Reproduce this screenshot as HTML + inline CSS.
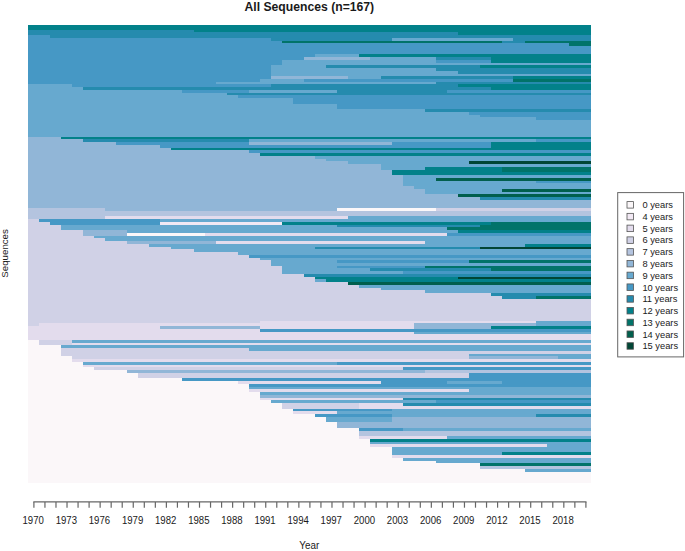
<!DOCTYPE html>
<html><head><meta charset="utf-8"><style>
html,body{margin:0;padding:0;background:#fff;}
body{width:685px;height:551px;overflow:hidden;}
svg{display:block;}
text{font-family:"Liberation Sans",sans-serif;fill:#1a1a1a;}
.t{font-size:9.6px;}
.l{font-size:9.3px;}
.title{font-size:12.2px;font-weight:bold;}
</style></head><body>
<svg width="685" height="551" viewBox="0 0 685 551" shape-rendering="crispEdges">
<text x="309.3" y="11.3" text-anchor="middle" class="title">All Sequences (n=167)</text>
<g><rect x="28.00" y="25.45" width="562.70" height="1.37" fill="#02818a"/>
<rect x="28.00" y="26.82" width="562.70" height="2.75" fill="#02818a"/>
<rect x="28.00" y="29.57" width="165.50" height="2.75" fill="#258bae"/>
<rect x="193.50" y="29.57" width="397.20" height="2.75" fill="#02818a"/>
<rect x="28.00" y="32.32" width="430.30" height="2.75" fill="#258bae"/>
<rect x="458.30" y="32.32" width="132.40" height="2.75" fill="#02818a"/>
<rect x="28.00" y="35.06" width="22.07" height="2.75" fill="#4698c5"/>
<rect x="50.07" y="35.06" width="540.63" height="2.75" fill="#258bae"/>
<rect x="28.00" y="37.81" width="242.73" height="2.75" fill="#4698c5"/>
<rect x="270.73" y="37.81" width="121.37" height="2.75" fill="#258bae"/>
<rect x="392.10" y="37.81" width="121.37" height="2.75" fill="#67a9cf"/>
<rect x="513.47" y="37.81" width="77.23" height="2.75" fill="#258bae"/>
<rect x="28.00" y="40.55" width="253.77" height="2.75" fill="#4698c5"/>
<rect x="281.77" y="40.55" width="220.67" height="2.75" fill="#017369"/>
<rect x="502.43" y="40.55" width="22.07" height="2.75" fill="#258bae"/>
<rect x="524.50" y="40.55" width="66.20" height="2.75" fill="#017369"/>
<rect x="28.00" y="43.30" width="540.63" height="2.75" fill="#4698c5"/>
<rect x="568.63" y="43.30" width="22.07" height="2.75" fill="#017369"/>
<rect x="28.00" y="46.05" width="562.70" height="2.75" fill="#4698c5"/>
<rect x="28.00" y="48.79" width="562.70" height="2.75" fill="#4698c5"/>
<rect x="28.00" y="51.54" width="562.70" height="2.75" fill="#4698c5"/>
<rect x="28.00" y="54.29" width="286.87" height="2.75" fill="#4698c5"/>
<rect x="314.87" y="54.29" width="44.13" height="2.75" fill="#67a9cf"/>
<rect x="359.00" y="54.29" width="231.70" height="2.75" fill="#02818a"/>
<rect x="28.00" y="57.03" width="275.83" height="2.75" fill="#4698c5"/>
<rect x="303.83" y="57.03" width="66.20" height="2.75" fill="#91b6d7"/>
<rect x="370.03" y="57.03" width="66.20" height="2.75" fill="#67a9cf"/>
<rect x="436.23" y="57.03" width="55.17" height="2.75" fill="#258bae"/>
<rect x="491.40" y="57.03" width="99.30" height="2.75" fill="#02818a"/>
<rect x="28.00" y="59.78" width="253.77" height="2.75" fill="#4698c5"/>
<rect x="281.77" y="59.78" width="154.47" height="2.75" fill="#67a9cf"/>
<rect x="436.23" y="59.78" width="55.17" height="2.75" fill="#4698c5"/>
<rect x="491.40" y="59.78" width="99.30" height="2.75" fill="#02818a"/>
<rect x="28.00" y="62.52" width="253.77" height="2.75" fill="#4698c5"/>
<rect x="281.77" y="62.52" width="308.93" height="2.75" fill="#67a9cf"/>
<rect x="28.00" y="65.27" width="242.73" height="2.75" fill="#4698c5"/>
<rect x="270.73" y="65.27" width="55.17" height="2.75" fill="#67a9cf"/>
<rect x="325.90" y="65.27" width="154.47" height="2.75" fill="#258bae"/>
<rect x="480.37" y="65.27" width="110.33" height="2.75" fill="#02818a"/>
<rect x="28.00" y="68.02" width="242.73" height="2.75" fill="#4698c5"/>
<rect x="270.73" y="68.02" width="165.50" height="2.75" fill="#67a9cf"/>
<rect x="436.23" y="68.02" width="154.47" height="2.75" fill="#258bae"/>
<rect x="28.00" y="70.76" width="242.73" height="2.75" fill="#4698c5"/>
<rect x="270.73" y="70.76" width="187.57" height="2.75" fill="#67a9cf"/>
<rect x="458.30" y="70.76" width="132.40" height="2.75" fill="#258bae"/>
<rect x="28.00" y="73.51" width="242.73" height="2.75" fill="#4698c5"/>
<rect x="270.73" y="73.51" width="319.97" height="2.75" fill="#67a9cf"/>
<rect x="28.00" y="76.26" width="242.73" height="2.75" fill="#4698c5"/>
<rect x="270.73" y="76.26" width="77.23" height="2.75" fill="#91b6d7"/>
<rect x="347.97" y="76.26" width="33.10" height="2.75" fill="#67a9cf"/>
<rect x="381.07" y="76.26" width="132.40" height="2.75" fill="#258bae"/>
<rect x="513.47" y="76.26" width="77.23" height="2.75" fill="#02818a"/>
<rect x="28.00" y="79.00" width="231.70" height="2.75" fill="#4698c5"/>
<rect x="259.70" y="79.00" width="44.13" height="2.75" fill="#67a9cf"/>
<rect x="303.83" y="79.00" width="209.63" height="2.75" fill="#4698c5"/>
<rect x="513.47" y="79.00" width="77.23" height="2.75" fill="#017369"/>
<rect x="28.00" y="81.75" width="187.57" height="2.75" fill="#4698c5"/>
<rect x="215.57" y="81.75" width="220.67" height="2.75" fill="#67a9cf"/>
<rect x="436.23" y="81.75" width="154.47" height="2.75" fill="#258bae"/>
<rect x="28.00" y="84.49" width="44.13" height="2.75" fill="#67a9cf"/>
<rect x="72.13" y="84.49" width="198.60" height="2.75" fill="#4698c5"/>
<rect x="270.73" y="84.49" width="187.57" height="2.75" fill="#258bae"/>
<rect x="458.30" y="84.49" width="132.40" height="2.75" fill="#02818a"/>
<rect x="28.00" y="87.24" width="55.17" height="2.75" fill="#67a9cf"/>
<rect x="83.17" y="87.24" width="408.23" height="2.75" fill="#258bae"/>
<rect x="491.40" y="87.24" width="99.30" height="2.75" fill="#02818a"/>
<rect x="28.00" y="89.99" width="154.47" height="2.75" fill="#67a9cf"/>
<rect x="182.47" y="89.99" width="66.20" height="2.75" fill="#4698c5"/>
<rect x="248.67" y="89.99" width="88.27" height="2.75" fill="#67a9cf"/>
<rect x="336.93" y="89.99" width="110.33" height="2.75" fill="#258bae"/>
<rect x="447.27" y="89.99" width="143.43" height="2.75" fill="#4698c5"/>
<rect x="28.00" y="92.73" width="198.60" height="2.75" fill="#67a9cf"/>
<rect x="226.60" y="92.73" width="364.10" height="2.75" fill="#258bae"/>
<rect x="28.00" y="95.48" width="209.63" height="2.75" fill="#67a9cf"/>
<rect x="237.63" y="95.48" width="353.07" height="2.75" fill="#4698c5"/>
<rect x="28.00" y="98.23" width="264.80" height="2.75" fill="#67a9cf"/>
<rect x="292.80" y="98.23" width="297.90" height="2.75" fill="#4698c5"/>
<rect x="28.00" y="100.97" width="264.80" height="2.75" fill="#67a9cf"/>
<rect x="292.80" y="100.97" width="297.90" height="2.75" fill="#4698c5"/>
<rect x="28.00" y="103.72" width="308.93" height="2.75" fill="#67a9cf"/>
<rect x="336.93" y="103.72" width="253.77" height="2.75" fill="#4698c5"/>
<rect x="28.00" y="106.46" width="308.93" height="2.75" fill="#67a9cf"/>
<rect x="336.93" y="106.46" width="253.77" height="2.75" fill="#4698c5"/>
<rect x="28.00" y="109.21" width="397.20" height="2.75" fill="#67a9cf"/>
<rect x="425.20" y="109.21" width="165.50" height="2.75" fill="#258bae"/>
<rect x="28.00" y="111.96" width="441.33" height="2.75" fill="#67a9cf"/>
<rect x="469.33" y="111.96" width="121.37" height="2.75" fill="#4698c5"/>
<rect x="28.00" y="114.70" width="452.37" height="2.75" fill="#67a9cf"/>
<rect x="480.37" y="114.70" width="110.33" height="2.75" fill="#4698c5"/>
<rect x="28.00" y="117.45" width="507.53" height="2.75" fill="#67a9cf"/>
<rect x="535.53" y="117.45" width="55.17" height="2.75" fill="#4698c5"/>
<rect x="28.00" y="120.20" width="562.70" height="2.75" fill="#67a9cf"/>
<rect x="28.00" y="122.94" width="562.70" height="2.75" fill="#67a9cf"/>
<rect x="28.00" y="125.69" width="562.70" height="2.75" fill="#67a9cf"/>
<rect x="28.00" y="128.43" width="562.70" height="2.75" fill="#67a9cf"/>
<rect x="28.00" y="131.18" width="562.70" height="2.75" fill="#67a9cf"/>
<rect x="28.00" y="133.93" width="562.70" height="2.75" fill="#67a9cf"/>
<rect x="28.00" y="136.67" width="33.10" height="2.75" fill="#91b6d7"/>
<rect x="61.10" y="136.67" width="529.60" height="2.75" fill="#02818a"/>
<rect x="28.00" y="139.42" width="55.17" height="2.75" fill="#91b6d7"/>
<rect x="83.17" y="139.42" width="165.50" height="2.75" fill="#258bae"/>
<rect x="248.67" y="139.42" width="286.87" height="2.75" fill="#67a9cf"/>
<rect x="535.53" y="139.42" width="55.17" height="2.75" fill="#4698c5"/>
<rect x="28.00" y="142.17" width="88.27" height="2.75" fill="#91b6d7"/>
<rect x="116.27" y="142.17" width="132.40" height="2.75" fill="#4698c5"/>
<rect x="248.67" y="142.17" width="143.43" height="2.75" fill="#91b6d7"/>
<rect x="392.10" y="142.17" width="99.30" height="2.75" fill="#4698c5"/>
<rect x="491.40" y="142.17" width="99.30" height="2.75" fill="#02818a"/>
<rect x="28.00" y="144.91" width="132.40" height="2.75" fill="#91b6d7"/>
<rect x="160.40" y="144.91" width="331.00" height="2.75" fill="#4698c5"/>
<rect x="491.40" y="144.91" width="99.30" height="2.75" fill="#02818a"/>
<rect x="28.00" y="147.66" width="143.43" height="2.75" fill="#91b6d7"/>
<rect x="171.43" y="147.66" width="419.27" height="2.75" fill="#02818a"/>
<rect x="28.00" y="150.40" width="220.67" height="2.75" fill="#91b6d7"/>
<rect x="248.67" y="150.40" width="342.03" height="2.75" fill="#4698c5"/>
<rect x="28.00" y="153.15" width="231.70" height="2.75" fill="#91b6d7"/>
<rect x="259.70" y="153.15" width="331.00" height="2.75" fill="#02818a"/>
<rect x="28.00" y="155.90" width="286.87" height="2.75" fill="#91b6d7"/>
<rect x="314.87" y="155.90" width="275.83" height="2.75" fill="#67a9cf"/>
<rect x="28.00" y="158.64" width="297.90" height="2.75" fill="#91b6d7"/>
<rect x="325.90" y="158.64" width="264.80" height="2.75" fill="#67a9cf"/>
<rect x="28.00" y="161.39" width="319.97" height="2.75" fill="#91b6d7"/>
<rect x="347.97" y="161.39" width="121.37" height="2.75" fill="#67a9cf"/>
<rect x="469.33" y="161.39" width="121.37" height="2.75" fill="#014636"/>
<rect x="28.00" y="164.14" width="353.07" height="2.75" fill="#91b6d7"/>
<rect x="381.07" y="164.14" width="209.63" height="2.75" fill="#67a9cf"/>
<rect x="28.00" y="166.88" width="353.07" height="2.75" fill="#91b6d7"/>
<rect x="381.07" y="166.88" width="44.13" height="2.75" fill="#67a9cf"/>
<rect x="425.20" y="166.88" width="77.23" height="2.75" fill="#02818a"/>
<rect x="502.43" y="166.88" width="88.27" height="2.75" fill="#017369"/>
<rect x="28.00" y="169.63" width="364.10" height="2.75" fill="#91b6d7"/>
<rect x="392.10" y="169.63" width="110.33" height="2.75" fill="#02818a"/>
<rect x="502.43" y="169.63" width="88.27" height="2.75" fill="#017369"/>
<rect x="28.00" y="172.37" width="364.10" height="2.75" fill="#91b6d7"/>
<rect x="392.10" y="172.37" width="198.60" height="2.75" fill="#02818a"/>
<rect x="28.00" y="175.12" width="375.13" height="2.75" fill="#91b6d7"/>
<rect x="403.13" y="175.12" width="187.57" height="2.75" fill="#67a9cf"/>
<rect x="28.00" y="177.87" width="375.13" height="2.75" fill="#91b6d7"/>
<rect x="403.13" y="177.87" width="33.10" height="2.75" fill="#67a9cf"/>
<rect x="436.23" y="177.87" width="154.47" height="2.75" fill="#015f4d"/>
<rect x="28.00" y="180.61" width="375.13" height="2.75" fill="#91b6d7"/>
<rect x="403.13" y="180.61" width="132.40" height="2.75" fill="#67a9cf"/>
<rect x="535.53" y="180.61" width="55.17" height="2.75" fill="#4698c5"/>
<rect x="28.00" y="183.36" width="375.13" height="2.75" fill="#91b6d7"/>
<rect x="403.13" y="183.36" width="187.57" height="2.75" fill="#67a9cf"/>
<rect x="28.00" y="186.11" width="386.17" height="2.75" fill="#91b6d7"/>
<rect x="414.17" y="186.11" width="176.53" height="2.75" fill="#67a9cf"/>
<rect x="28.00" y="188.85" width="397.20" height="2.75" fill="#91b6d7"/>
<rect x="425.20" y="188.85" width="77.23" height="2.75" fill="#67a9cf"/>
<rect x="502.43" y="188.85" width="88.27" height="2.75" fill="#015f4d"/>
<rect x="28.00" y="191.60" width="397.20" height="2.75" fill="#91b6d7"/>
<rect x="425.20" y="191.60" width="165.50" height="2.75" fill="#67a9cf"/>
<rect x="28.00" y="194.34" width="430.30" height="2.75" fill="#91b6d7"/>
<rect x="458.30" y="194.34" width="132.40" height="2.75" fill="#015f4d"/>
<rect x="28.00" y="197.09" width="452.37" height="2.75" fill="#91b6d7"/>
<rect x="480.37" y="197.09" width="110.33" height="2.75" fill="#258bae"/>
<rect x="28.00" y="199.84" width="562.70" height="2.75" fill="#91b6d7"/>
<rect x="28.00" y="202.58" width="562.70" height="2.75" fill="#91b6d7"/>
<rect x="28.00" y="205.33" width="562.70" height="2.75" fill="#91b6d7"/>
<rect x="28.00" y="208.08" width="77.23" height="2.75" fill="#b4c4df"/>
<rect x="105.23" y="208.08" width="231.70" height="2.75" fill="#91b6d7"/>
<rect x="336.93" y="208.08" width="99.30" height="2.75" fill="#fbf7f9"/>
<rect x="436.23" y="208.08" width="154.47" height="2.75" fill="#d0d1e6"/>
<rect x="28.00" y="210.82" width="562.70" height="2.75" fill="#b4c4df"/>
<rect x="28.00" y="213.57" width="562.70" height="2.75" fill="#b4c4df"/>
<rect x="28.00" y="216.31" width="77.23" height="2.75" fill="#b4c4df"/>
<rect x="105.23" y="216.31" width="242.73" height="2.75" fill="#e3dced"/>
<rect x="347.97" y="216.31" width="242.73" height="2.75" fill="#67a9cf"/>
<rect x="28.00" y="219.06" width="11.03" height="2.75" fill="#d0d1e6"/>
<rect x="39.03" y="219.06" width="121.37" height="2.75" fill="#4698c5"/>
<rect x="160.40" y="219.06" width="430.30" height="2.75" fill="#67a9cf"/>
<rect x="28.00" y="221.81" width="22.07" height="2.75" fill="#d0d1e6"/>
<rect x="50.07" y="221.81" width="110.33" height="2.75" fill="#4698c5"/>
<rect x="160.40" y="221.81" width="121.37" height="2.75" fill="#f2e9f4"/>
<rect x="281.77" y="221.81" width="209.63" height="2.75" fill="#02818a"/>
<rect x="491.40" y="221.81" width="99.30" height="2.75" fill="#017369"/>
<rect x="28.00" y="224.55" width="33.10" height="2.75" fill="#d0d1e6"/>
<rect x="61.10" y="224.55" width="275.83" height="2.75" fill="#67a9cf"/>
<rect x="336.93" y="224.55" width="143.43" height="2.75" fill="#258bae"/>
<rect x="480.37" y="224.55" width="110.33" height="2.75" fill="#017369"/>
<rect x="28.00" y="227.30" width="33.10" height="2.75" fill="#d0d1e6"/>
<rect x="61.10" y="227.30" width="386.17" height="2.75" fill="#67a9cf"/>
<rect x="447.27" y="227.30" width="143.43" height="2.75" fill="#017369"/>
<rect x="28.00" y="230.05" width="55.17" height="2.75" fill="#d0d1e6"/>
<rect x="83.17" y="230.05" width="44.13" height="2.75" fill="#91b6d7"/>
<rect x="127.30" y="230.05" width="331.00" height="2.75" fill="#67a9cf"/>
<rect x="458.30" y="230.05" width="132.40" height="2.75" fill="#02818a"/>
<rect x="28.00" y="232.79" width="55.17" height="2.75" fill="#d0d1e6"/>
<rect x="83.17" y="232.79" width="44.13" height="2.75" fill="#91b6d7"/>
<rect x="127.30" y="232.79" width="77.23" height="2.75" fill="#fbf7f9"/>
<rect x="204.53" y="232.79" width="242.73" height="2.75" fill="#e3dced"/>
<rect x="447.27" y="232.79" width="143.43" height="2.75" fill="#4698c5"/>
<rect x="28.00" y="235.54" width="66.20" height="2.75" fill="#d0d1e6"/>
<rect x="94.20" y="235.54" width="496.50" height="2.75" fill="#67a9cf"/>
<rect x="28.00" y="238.28" width="77.23" height="2.75" fill="#d0d1e6"/>
<rect x="105.23" y="238.28" width="485.47" height="2.75" fill="#67a9cf"/>
<rect x="28.00" y="241.03" width="99.30" height="2.75" fill="#d0d1e6"/>
<rect x="127.30" y="241.03" width="88.27" height="2.75" fill="#91b6d7"/>
<rect x="215.57" y="241.03" width="209.63" height="2.75" fill="#e3dced"/>
<rect x="425.20" y="241.03" width="165.50" height="2.75" fill="#67a9cf"/>
<rect x="28.00" y="243.78" width="121.37" height="2.75" fill="#d0d1e6"/>
<rect x="149.37" y="243.78" width="375.13" height="2.75" fill="#67a9cf"/>
<rect x="524.50" y="243.78" width="66.20" height="2.75" fill="#02818a"/>
<rect x="28.00" y="246.52" width="143.43" height="2.75" fill="#d0d1e6"/>
<rect x="171.43" y="246.52" width="143.43" height="2.75" fill="#67a9cf"/>
<rect x="314.87" y="246.52" width="165.50" height="2.75" fill="#258bae"/>
<rect x="480.37" y="246.52" width="110.33" height="2.75" fill="#014636"/>
<rect x="28.00" y="249.27" width="165.50" height="2.75" fill="#d0d1e6"/>
<rect x="193.50" y="249.27" width="397.20" height="2.75" fill="#67a9cf"/>
<rect x="28.00" y="252.02" width="209.63" height="2.75" fill="#d0d1e6"/>
<rect x="237.63" y="252.02" width="353.07" height="2.75" fill="#67a9cf"/>
<rect x="28.00" y="254.76" width="220.67" height="2.75" fill="#d0d1e6"/>
<rect x="248.67" y="254.76" width="342.03" height="2.75" fill="#4698c5"/>
<rect x="28.00" y="257.51" width="231.70" height="2.75" fill="#d0d1e6"/>
<rect x="259.70" y="257.51" width="331.00" height="2.75" fill="#67a9cf"/>
<rect x="28.00" y="260.25" width="242.73" height="2.75" fill="#d0d1e6"/>
<rect x="270.73" y="260.25" width="66.20" height="2.75" fill="#67a9cf"/>
<rect x="336.93" y="260.25" width="132.40" height="2.75" fill="#4698c5"/>
<rect x="469.33" y="260.25" width="121.37" height="2.75" fill="#017369"/>
<rect x="28.00" y="263.00" width="242.73" height="2.75" fill="#d0d1e6"/>
<rect x="270.73" y="263.00" width="319.97" height="2.75" fill="#67a9cf"/>
<rect x="28.00" y="265.75" width="253.77" height="2.75" fill="#d0d1e6"/>
<rect x="281.77" y="265.75" width="55.17" height="2.75" fill="#67a9cf"/>
<rect x="336.93" y="265.75" width="88.27" height="2.75" fill="#4698c5"/>
<rect x="425.20" y="265.75" width="165.50" height="2.75" fill="#017369"/>
<rect x="28.00" y="268.49" width="253.77" height="2.75" fill="#d0d1e6"/>
<rect x="281.77" y="268.49" width="88.27" height="2.75" fill="#67a9cf"/>
<rect x="370.03" y="268.49" width="121.37" height="2.75" fill="#258bae"/>
<rect x="491.40" y="268.49" width="99.30" height="2.75" fill="#017369"/>
<rect x="28.00" y="271.24" width="253.77" height="2.75" fill="#d0d1e6"/>
<rect x="281.77" y="271.24" width="121.37" height="2.75" fill="#67a9cf"/>
<rect x="403.13" y="271.24" width="187.57" height="2.75" fill="#4698c5"/>
<rect x="28.00" y="273.99" width="275.83" height="2.75" fill="#d0d1e6"/>
<rect x="303.83" y="273.99" width="286.87" height="2.75" fill="#258bae"/>
<rect x="28.00" y="276.73" width="286.87" height="2.75" fill="#d0d1e6"/>
<rect x="314.87" y="276.73" width="143.43" height="2.75" fill="#02818a"/>
<rect x="458.30" y="276.73" width="132.40" height="2.75" fill="#014636"/>
<rect x="28.00" y="279.48" width="286.87" height="2.75" fill="#d0d1e6"/>
<rect x="314.87" y="279.48" width="11.03" height="2.75" fill="#67a9cf"/>
<rect x="325.90" y="279.48" width="264.80" height="2.75" fill="#02818a"/>
<rect x="28.00" y="282.22" width="319.97" height="2.75" fill="#d0d1e6"/>
<rect x="347.97" y="282.22" width="242.73" height="2.75" fill="#015f4d"/>
<rect x="28.00" y="284.97" width="331.00" height="2.75" fill="#d0d1e6"/>
<rect x="359.00" y="284.97" width="231.70" height="2.75" fill="#67a9cf"/>
<rect x="28.00" y="287.72" width="353.07" height="2.75" fill="#d0d1e6"/>
<rect x="381.07" y="287.72" width="209.63" height="2.75" fill="#67a9cf"/>
<rect x="28.00" y="290.46" width="397.20" height="2.75" fill="#d0d1e6"/>
<rect x="425.20" y="290.46" width="165.50" height="2.75" fill="#67a9cf"/>
<rect x="28.00" y="293.21" width="463.40" height="2.75" fill="#d0d1e6"/>
<rect x="491.40" y="293.21" width="99.30" height="2.75" fill="#258bae"/>
<rect x="28.00" y="295.96" width="474.43" height="2.75" fill="#d0d1e6"/>
<rect x="502.43" y="295.96" width="33.10" height="2.75" fill="#258bae"/>
<rect x="535.53" y="295.96" width="55.17" height="2.75" fill="#017369"/>
<rect x="28.00" y="298.70" width="562.70" height="2.75" fill="#d0d1e6"/>
<rect x="28.00" y="301.45" width="562.70" height="2.75" fill="#d0d1e6"/>
<rect x="28.00" y="304.19" width="562.70" height="2.75" fill="#d0d1e6"/>
<rect x="28.00" y="306.94" width="562.70" height="2.75" fill="#d0d1e6"/>
<rect x="28.00" y="309.69" width="562.70" height="2.75" fill="#d0d1e6"/>
<rect x="28.00" y="312.43" width="562.70" height="2.75" fill="#d0d1e6"/>
<rect x="28.00" y="315.18" width="562.70" height="2.75" fill="#d0d1e6"/>
<rect x="28.00" y="317.93" width="562.70" height="2.75" fill="#d0d1e6"/>
<rect x="28.00" y="320.67" width="231.70" height="2.75" fill="#d0d1e6"/>
<rect x="259.70" y="320.67" width="275.83" height="2.75" fill="#e3dced"/>
<rect x="535.53" y="320.67" width="55.17" height="2.75" fill="#67a9cf"/>
<rect x="28.00" y="323.42" width="11.03" height="2.75" fill="#d0d1e6"/>
<rect x="39.03" y="323.42" width="375.13" height="2.75" fill="#e3dced"/>
<rect x="414.17" y="323.42" width="121.37" height="2.75" fill="#91b6d7"/>
<rect x="535.53" y="323.42" width="55.17" height="2.75" fill="#67a9cf"/>
<rect x="28.00" y="326.16" width="132.40" height="2.75" fill="#e3dced"/>
<rect x="160.40" y="326.16" width="99.30" height="2.75" fill="#91b6d7"/>
<rect x="259.70" y="326.16" width="154.47" height="2.75" fill="#e3dced"/>
<rect x="414.17" y="326.16" width="77.23" height="2.75" fill="#91b6d7"/>
<rect x="491.40" y="326.16" width="99.30" height="2.75" fill="#02818a"/>
<rect x="28.00" y="328.91" width="231.70" height="2.75" fill="#e3dced"/>
<rect x="259.70" y="328.91" width="331.00" height="2.75" fill="#4698c5"/>
<rect x="28.00" y="331.66" width="386.17" height="2.75" fill="#e3dced"/>
<rect x="414.17" y="331.66" width="176.53" height="2.75" fill="#67a9cf"/>
<rect x="28.00" y="334.40" width="562.70" height="2.75" fill="#e3dced"/>
<rect x="28.00" y="337.15" width="562.70" height="2.75" fill="#e3dced"/>
<rect x="28.00" y="339.90" width="11.03" height="2.75" fill="#fbf7f9"/>
<rect x="39.03" y="339.90" width="33.10" height="2.75" fill="#d0d1e6"/>
<rect x="72.13" y="339.90" width="518.57" height="2.75" fill="#67a9cf"/>
<rect x="28.00" y="342.64" width="11.03" height="2.75" fill="#fbf7f9"/>
<rect x="39.03" y="342.64" width="33.10" height="2.75" fill="#d0d1e6"/>
<rect x="72.13" y="342.64" width="518.57" height="2.75" fill="#e3dced"/>
<rect x="28.00" y="345.39" width="33.10" height="2.75" fill="#fbf7f9"/>
<rect x="61.10" y="345.39" width="529.60" height="2.75" fill="#67a9cf"/>
<rect x="28.00" y="348.13" width="33.10" height="2.75" fill="#fbf7f9"/>
<rect x="61.10" y="348.13" width="187.57" height="2.75" fill="#d0d1e6"/>
<rect x="248.67" y="348.13" width="342.03" height="2.75" fill="#67a9cf"/>
<rect x="28.00" y="350.88" width="33.10" height="2.75" fill="#fbf7f9"/>
<rect x="61.10" y="350.88" width="529.60" height="2.75" fill="#d0d1e6"/>
<rect x="28.00" y="353.63" width="33.10" height="2.75" fill="#fbf7f9"/>
<rect x="61.10" y="353.63" width="408.23" height="2.75" fill="#d0d1e6"/>
<rect x="469.33" y="353.63" width="121.37" height="2.75" fill="#67a9cf"/>
<rect x="28.00" y="356.37" width="44.13" height="2.75" fill="#fbf7f9"/>
<rect x="72.13" y="356.37" width="397.20" height="2.75" fill="#d0d1e6"/>
<rect x="469.33" y="356.37" width="88.27" height="2.75" fill="#91b6d7"/>
<rect x="557.60" y="356.37" width="33.10" height="2.75" fill="#67a9cf"/>
<rect x="28.00" y="359.12" width="44.13" height="2.75" fill="#fbf7f9"/>
<rect x="72.13" y="359.12" width="518.57" height="2.75" fill="#e3dced"/>
<rect x="28.00" y="361.87" width="55.17" height="2.75" fill="#fbf7f9"/>
<rect x="83.17" y="361.87" width="253.77" height="2.75" fill="#67a9cf"/>
<rect x="336.93" y="361.87" width="253.77" height="2.75" fill="#4698c5"/>
<rect x="28.00" y="364.61" width="55.17" height="2.75" fill="#fbf7f9"/>
<rect x="83.17" y="364.61" width="507.53" height="2.75" fill="#e3dced"/>
<rect x="28.00" y="367.36" width="66.20" height="2.75" fill="#fbf7f9"/>
<rect x="94.20" y="367.36" width="308.93" height="2.75" fill="#d0d1e6"/>
<rect x="403.13" y="367.36" width="187.57" height="2.75" fill="#4698c5"/>
<rect x="28.00" y="370.10" width="99.30" height="2.75" fill="#fbf7f9"/>
<rect x="127.30" y="370.10" width="297.90" height="2.75" fill="#91b6d7"/>
<rect x="425.20" y="370.10" width="165.50" height="2.75" fill="#b4c4df"/>
<rect x="28.00" y="372.85" width="110.33" height="2.75" fill="#fbf7f9"/>
<rect x="138.33" y="372.85" width="331.00" height="2.75" fill="#d0d1e6"/>
<rect x="469.33" y="372.85" width="121.37" height="2.75" fill="#4698c5"/>
<rect x="28.00" y="375.60" width="110.33" height="2.75" fill="#fbf7f9"/>
<rect x="138.33" y="375.60" width="331.00" height="2.75" fill="#d0d1e6"/>
<rect x="469.33" y="375.60" width="121.37" height="2.75" fill="#4698c5"/>
<rect x="28.00" y="378.34" width="154.47" height="2.75" fill="#fbf7f9"/>
<rect x="182.47" y="378.34" width="408.23" height="2.75" fill="#4698c5"/>
<rect x="28.00" y="381.09" width="209.63" height="2.75" fill="#fbf7f9"/>
<rect x="237.63" y="381.09" width="143.43" height="2.75" fill="#e3dced"/>
<rect x="381.07" y="381.09" width="66.20" height="2.75" fill="#4698c5"/>
<rect x="447.27" y="381.09" width="55.17" height="2.75" fill="#67a9cf"/>
<rect x="502.43" y="381.09" width="88.27" height="2.75" fill="#4698c5"/>
<rect x="28.00" y="383.84" width="220.67" height="2.75" fill="#fbf7f9"/>
<rect x="248.67" y="383.84" width="342.03" height="2.75" fill="#4698c5"/>
<rect x="28.00" y="386.58" width="220.67" height="2.75" fill="#fbf7f9"/>
<rect x="248.67" y="386.58" width="342.03" height="2.75" fill="#67a9cf"/>
<rect x="28.00" y="389.33" width="220.67" height="2.75" fill="#fbf7f9"/>
<rect x="248.67" y="389.33" width="220.67" height="2.75" fill="#e3dced"/>
<rect x="469.33" y="389.33" width="121.37" height="2.75" fill="#67a9cf"/>
<rect x="28.00" y="392.07" width="231.70" height="2.75" fill="#fbf7f9"/>
<rect x="259.70" y="392.07" width="331.00" height="2.75" fill="#67a9cf"/>
<rect x="28.00" y="394.82" width="231.70" height="2.75" fill="#fbf7f9"/>
<rect x="259.70" y="394.82" width="331.00" height="2.75" fill="#91b6d7"/>
<rect x="28.00" y="397.57" width="231.70" height="2.75" fill="#fbf7f9"/>
<rect x="259.70" y="397.57" width="143.43" height="2.75" fill="#e3dced"/>
<rect x="403.13" y="397.57" width="187.57" height="2.75" fill="#258bae"/>
<rect x="28.00" y="400.31" width="242.73" height="2.75" fill="#fbf7f9"/>
<rect x="270.73" y="400.31" width="165.50" height="2.75" fill="#67a9cf"/>
<rect x="436.23" y="400.31" width="154.47" height="2.75" fill="#4698c5"/>
<rect x="28.00" y="403.06" width="253.77" height="2.75" fill="#fbf7f9"/>
<rect x="281.77" y="403.06" width="77.23" height="2.75" fill="#d0d1e6"/>
<rect x="359.00" y="403.06" width="44.13" height="2.75" fill="#e3dced"/>
<rect x="403.13" y="403.06" width="187.57" height="2.75" fill="#258bae"/>
<rect x="28.00" y="405.81" width="253.77" height="2.75" fill="#fbf7f9"/>
<rect x="281.77" y="405.81" width="77.23" height="2.75" fill="#d0d1e6"/>
<rect x="359.00" y="405.81" width="231.70" height="2.75" fill="#e3dced"/>
<rect x="28.00" y="408.55" width="264.80" height="2.75" fill="#fbf7f9"/>
<rect x="292.80" y="408.55" width="99.30" height="2.75" fill="#4698c5"/>
<rect x="392.10" y="408.55" width="198.60" height="2.75" fill="#67a9cf"/>
<rect x="28.00" y="411.30" width="264.80" height="2.75" fill="#fbf7f9"/>
<rect x="292.80" y="411.30" width="44.13" height="2.75" fill="#e3dced"/>
<rect x="336.93" y="411.30" width="253.77" height="2.75" fill="#67a9cf"/>
<rect x="28.00" y="414.04" width="286.87" height="2.75" fill="#fbf7f9"/>
<rect x="314.87" y="414.04" width="77.23" height="2.75" fill="#4698c5"/>
<rect x="392.10" y="414.04" width="143.43" height="2.75" fill="#67a9cf"/>
<rect x="535.53" y="414.04" width="55.17" height="2.75" fill="#258bae"/>
<rect x="28.00" y="416.79" width="297.90" height="2.75" fill="#fbf7f9"/>
<rect x="325.90" y="416.79" width="66.20" height="2.75" fill="#67a9cf"/>
<rect x="392.10" y="416.79" width="198.60" height="2.75" fill="#91b6d7"/>
<rect x="28.00" y="419.54" width="297.90" height="2.75" fill="#fbf7f9"/>
<rect x="325.90" y="419.54" width="66.20" height="2.75" fill="#67a9cf"/>
<rect x="392.10" y="419.54" width="198.60" height="2.75" fill="#91b6d7"/>
<rect x="28.00" y="422.28" width="308.93" height="2.75" fill="#fbf7f9"/>
<rect x="336.93" y="422.28" width="253.77" height="2.75" fill="#91b6d7"/>
<rect x="28.00" y="425.03" width="308.93" height="2.75" fill="#fbf7f9"/>
<rect x="336.93" y="425.03" width="253.77" height="2.75" fill="#91b6d7"/>
<rect x="28.00" y="427.78" width="331.00" height="2.75" fill="#fbf7f9"/>
<rect x="359.00" y="427.78" width="44.13" height="2.75" fill="#4698c5"/>
<rect x="403.13" y="427.78" width="187.57" height="2.75" fill="#67a9cf"/>
<rect x="28.00" y="430.52" width="331.00" height="2.75" fill="#fbf7f9"/>
<rect x="359.00" y="430.52" width="231.70" height="2.75" fill="#b4c4df"/>
<rect x="28.00" y="433.27" width="331.00" height="2.75" fill="#fbf7f9"/>
<rect x="359.00" y="433.27" width="231.70" height="2.75" fill="#b4c4df"/>
<rect x="28.00" y="436.01" width="331.00" height="2.75" fill="#fbf7f9"/>
<rect x="359.00" y="436.01" width="88.27" height="2.75" fill="#e3dced"/>
<rect x="447.27" y="436.01" width="143.43" height="2.75" fill="#67a9cf"/>
<rect x="28.00" y="438.76" width="342.03" height="2.75" fill="#fbf7f9"/>
<rect x="370.03" y="438.76" width="220.67" height="2.75" fill="#02818a"/>
<rect x="28.00" y="441.51" width="342.03" height="2.75" fill="#fbf7f9"/>
<rect x="370.03" y="441.51" width="220.67" height="2.75" fill="#67a9cf"/>
<rect x="28.00" y="444.25" width="342.03" height="2.75" fill="#fbf7f9"/>
<rect x="370.03" y="444.25" width="176.53" height="2.75" fill="#e3dced"/>
<rect x="546.57" y="444.25" width="44.13" height="2.75" fill="#67a9cf"/>
<rect x="28.00" y="447.00" width="364.10" height="2.75" fill="#fbf7f9"/>
<rect x="392.10" y="447.00" width="198.60" height="2.75" fill="#67a9cf"/>
<rect x="28.00" y="449.75" width="364.10" height="2.75" fill="#fbf7f9"/>
<rect x="392.10" y="449.75" width="198.60" height="2.75" fill="#67a9cf"/>
<rect x="28.00" y="452.49" width="364.10" height="2.75" fill="#fbf7f9"/>
<rect x="392.10" y="452.49" width="110.33" height="2.75" fill="#67a9cf"/>
<rect x="502.43" y="452.49" width="88.27" height="2.75" fill="#02818a"/>
<rect x="28.00" y="455.24" width="364.10" height="2.75" fill="#fbf7f9"/>
<rect x="392.10" y="455.24" width="198.60" height="2.75" fill="#e3dced"/>
<rect x="28.00" y="457.98" width="375.13" height="2.75" fill="#fbf7f9"/>
<rect x="403.13" y="457.98" width="187.57" height="2.75" fill="#67a9cf"/>
<rect x="28.00" y="460.73" width="408.23" height="2.75" fill="#fbf7f9"/>
<rect x="436.23" y="460.73" width="154.47" height="2.75" fill="#67a9cf"/>
<rect x="28.00" y="463.48" width="452.37" height="2.75" fill="#fbf7f9"/>
<rect x="480.37" y="463.48" width="110.33" height="2.75" fill="#017369"/>
<rect x="28.00" y="466.22" width="452.37" height="2.75" fill="#fbf7f9"/>
<rect x="480.37" y="466.22" width="110.33" height="2.75" fill="#b4c4df"/>
<rect x="28.00" y="468.97" width="496.50" height="2.75" fill="#fbf7f9"/>
<rect x="524.50" y="468.97" width="66.20" height="2.75" fill="#67a9cf"/>
<rect x="28.00" y="471.72" width="562.70" height="2.75" fill="#fbf7f9"/>
<rect x="28.00" y="474.46" width="562.70" height="2.75" fill="#fbf7f9"/>
<rect x="28.00" y="477.21" width="562.70" height="2.75" fill="#fbf7f9"/>
<rect x="28.00" y="479.95" width="562.70" height="2.75" fill="#fbf7f9"/></g>
<g shape-rendering="auto"><line x1="33.30" y1="501.9" x2="586.50" y2="501.9" stroke="#666" stroke-width="1.2"/>
<line x1="33.90" y1="501.9" x2="33.90" y2="507.7" stroke="#666" stroke-width="1.2"/>
<text transform="translate(33.20,524.1) scale(1,1.06)" text-anchor="middle" class="t">1970</text>
<line x1="44.94" y1="501.9" x2="44.94" y2="507.7" stroke="#666" stroke-width="1.2"/>
<line x1="55.98" y1="501.9" x2="55.98" y2="507.7" stroke="#666" stroke-width="1.2"/>
<line x1="67.02" y1="501.9" x2="67.02" y2="507.7" stroke="#666" stroke-width="1.2"/>
<text transform="translate(66.32,524.1) scale(1,1.06)" text-anchor="middle" class="t">1973</text>
<line x1="78.06" y1="501.9" x2="78.06" y2="507.7" stroke="#666" stroke-width="1.2"/>
<line x1="89.10" y1="501.9" x2="89.10" y2="507.7" stroke="#666" stroke-width="1.2"/>
<line x1="100.14" y1="501.9" x2="100.14" y2="507.7" stroke="#666" stroke-width="1.2"/>
<text transform="translate(99.44,524.1) scale(1,1.06)" text-anchor="middle" class="t">1976</text>
<line x1="111.18" y1="501.9" x2="111.18" y2="507.7" stroke="#666" stroke-width="1.2"/>
<line x1="122.22" y1="501.9" x2="122.22" y2="507.7" stroke="#666" stroke-width="1.2"/>
<line x1="133.26" y1="501.9" x2="133.26" y2="507.7" stroke="#666" stroke-width="1.2"/>
<text transform="translate(132.56,524.1) scale(1,1.06)" text-anchor="middle" class="t">1979</text>
<line x1="144.30" y1="501.9" x2="144.30" y2="507.7" stroke="#666" stroke-width="1.2"/>
<line x1="155.34" y1="501.9" x2="155.34" y2="507.7" stroke="#666" stroke-width="1.2"/>
<line x1="166.38" y1="501.9" x2="166.38" y2="507.7" stroke="#666" stroke-width="1.2"/>
<text transform="translate(165.68,524.1) scale(1,1.06)" text-anchor="middle" class="t">1982</text>
<line x1="177.42" y1="501.9" x2="177.42" y2="507.7" stroke="#666" stroke-width="1.2"/>
<line x1="188.46" y1="501.9" x2="188.46" y2="507.7" stroke="#666" stroke-width="1.2"/>
<line x1="199.50" y1="501.9" x2="199.50" y2="507.7" stroke="#666" stroke-width="1.2"/>
<text transform="translate(198.80,524.1) scale(1,1.06)" text-anchor="middle" class="t">1985</text>
<line x1="210.54" y1="501.9" x2="210.54" y2="507.7" stroke="#666" stroke-width="1.2"/>
<line x1="221.58" y1="501.9" x2="221.58" y2="507.7" stroke="#666" stroke-width="1.2"/>
<line x1="232.62" y1="501.9" x2="232.62" y2="507.7" stroke="#666" stroke-width="1.2"/>
<text transform="translate(231.92,524.1) scale(1,1.06)" text-anchor="middle" class="t">1988</text>
<line x1="243.66" y1="501.9" x2="243.66" y2="507.7" stroke="#666" stroke-width="1.2"/>
<line x1="254.70" y1="501.9" x2="254.70" y2="507.7" stroke="#666" stroke-width="1.2"/>
<line x1="265.74" y1="501.9" x2="265.74" y2="507.7" stroke="#666" stroke-width="1.2"/>
<text transform="translate(265.04,524.1) scale(1,1.06)" text-anchor="middle" class="t">1991</text>
<line x1="276.78" y1="501.9" x2="276.78" y2="507.7" stroke="#666" stroke-width="1.2"/>
<line x1="287.82" y1="501.9" x2="287.82" y2="507.7" stroke="#666" stroke-width="1.2"/>
<line x1="298.86" y1="501.9" x2="298.86" y2="507.7" stroke="#666" stroke-width="1.2"/>
<text transform="translate(298.16,524.1) scale(1,1.06)" text-anchor="middle" class="t">1994</text>
<line x1="309.90" y1="501.9" x2="309.90" y2="507.7" stroke="#666" stroke-width="1.2"/>
<line x1="320.94" y1="501.9" x2="320.94" y2="507.7" stroke="#666" stroke-width="1.2"/>
<line x1="331.98" y1="501.9" x2="331.98" y2="507.7" stroke="#666" stroke-width="1.2"/>
<text transform="translate(331.28,524.1) scale(1,1.06)" text-anchor="middle" class="t">1997</text>
<line x1="343.02" y1="501.9" x2="343.02" y2="507.7" stroke="#666" stroke-width="1.2"/>
<line x1="354.06" y1="501.9" x2="354.06" y2="507.7" stroke="#666" stroke-width="1.2"/>
<line x1="365.10" y1="501.9" x2="365.10" y2="507.7" stroke="#666" stroke-width="1.2"/>
<text transform="translate(364.40,524.1) scale(1,1.06)" text-anchor="middle" class="t">2000</text>
<line x1="376.14" y1="501.9" x2="376.14" y2="507.7" stroke="#666" stroke-width="1.2"/>
<line x1="387.18" y1="501.9" x2="387.18" y2="507.7" stroke="#666" stroke-width="1.2"/>
<line x1="398.22" y1="501.9" x2="398.22" y2="507.7" stroke="#666" stroke-width="1.2"/>
<text transform="translate(397.52,524.1) scale(1,1.06)" text-anchor="middle" class="t">2003</text>
<line x1="409.26" y1="501.9" x2="409.26" y2="507.7" stroke="#666" stroke-width="1.2"/>
<line x1="420.30" y1="501.9" x2="420.30" y2="507.7" stroke="#666" stroke-width="1.2"/>
<line x1="431.34" y1="501.9" x2="431.34" y2="507.7" stroke="#666" stroke-width="1.2"/>
<text transform="translate(430.64,524.1) scale(1,1.06)" text-anchor="middle" class="t">2006</text>
<line x1="442.38" y1="501.9" x2="442.38" y2="507.7" stroke="#666" stroke-width="1.2"/>
<line x1="453.42" y1="501.9" x2="453.42" y2="507.7" stroke="#666" stroke-width="1.2"/>
<line x1="464.46" y1="501.9" x2="464.46" y2="507.7" stroke="#666" stroke-width="1.2"/>
<text transform="translate(463.76,524.1) scale(1,1.06)" text-anchor="middle" class="t">2009</text>
<line x1="475.50" y1="501.9" x2="475.50" y2="507.7" stroke="#666" stroke-width="1.2"/>
<line x1="486.54" y1="501.9" x2="486.54" y2="507.7" stroke="#666" stroke-width="1.2"/>
<line x1="497.58" y1="501.9" x2="497.58" y2="507.7" stroke="#666" stroke-width="1.2"/>
<text transform="translate(496.88,524.1) scale(1,1.06)" text-anchor="middle" class="t">2012</text>
<line x1="508.62" y1="501.9" x2="508.62" y2="507.7" stroke="#666" stroke-width="1.2"/>
<line x1="519.66" y1="501.9" x2="519.66" y2="507.7" stroke="#666" stroke-width="1.2"/>
<line x1="530.70" y1="501.9" x2="530.70" y2="507.7" stroke="#666" stroke-width="1.2"/>
<text transform="translate(530.00,524.1) scale(1,1.06)" text-anchor="middle" class="t">2015</text>
<line x1="541.74" y1="501.9" x2="541.74" y2="507.7" stroke="#666" stroke-width="1.2"/>
<line x1="552.78" y1="501.9" x2="552.78" y2="507.7" stroke="#666" stroke-width="1.2"/>
<line x1="563.82" y1="501.9" x2="563.82" y2="507.7" stroke="#666" stroke-width="1.2"/>
<text transform="translate(563.12,524.1) scale(1,1.06)" text-anchor="middle" class="t">2018</text>
<line x1="574.86" y1="501.9" x2="574.86" y2="507.7" stroke="#666" stroke-width="1.2"/>
<line x1="585.90" y1="501.9" x2="585.90" y2="507.7" stroke="#666" stroke-width="1.2"/></g>
<text transform="translate(309.3,549.2) scale(1,1.03)" text-anchor="middle" class="t" style="font-size:9.9px">Year</text>
<text transform="translate(7.8,253.4) rotate(-90)" text-anchor="middle" class="t" style="font-size:9.7px">Sequences</text>
<g shape-rendering="auto"><rect x="617.7" y="192.6" width="65.9" height="164.3" fill="#fff" stroke="#666" stroke-width="1"/>
<rect x="627.0" y="201.60" width="6.5" height="6.5" fill="#fbf7f9" stroke="#555" stroke-width="0.8"/>
<text x="642.4" y="208.20" class="l">0 years</text>
<rect x="627.0" y="213.36" width="6.5" height="6.5" fill="#f2e9f4" stroke="#555" stroke-width="0.8"/>
<text x="642.4" y="219.96" class="l">4 years</text>
<rect x="627.0" y="225.12" width="6.5" height="6.5" fill="#e3dced" stroke="#555" stroke-width="0.8"/>
<text x="642.4" y="231.72" class="l">5 years</text>
<rect x="627.0" y="236.88" width="6.5" height="6.5" fill="#d0d1e6" stroke="#555" stroke-width="0.8"/>
<text x="642.4" y="243.48" class="l">6 years</text>
<rect x="627.0" y="248.64" width="6.5" height="6.5" fill="#b4c4df" stroke="#555" stroke-width="0.8"/>
<text x="642.4" y="255.24" class="l">7 years</text>
<rect x="627.0" y="260.40" width="6.5" height="6.5" fill="#91b6d7" stroke="#555" stroke-width="0.8"/>
<text x="642.4" y="267.00" class="l">8 years</text>
<rect x="627.0" y="272.16" width="6.5" height="6.5" fill="#67a9cf" stroke="#555" stroke-width="0.8"/>
<text x="642.4" y="278.76" class="l">9 years</text>
<rect x="627.0" y="283.92" width="6.5" height="6.5" fill="#4698c5" stroke="#555" stroke-width="0.8"/>
<text x="642.4" y="290.52" class="l">10 years</text>
<rect x="627.0" y="295.68" width="6.5" height="6.5" fill="#258bae" stroke="#555" stroke-width="0.8"/>
<text x="642.4" y="302.28" class="l">11 years</text>
<rect x="627.0" y="307.44" width="6.5" height="6.5" fill="#02818a" stroke="#555" stroke-width="0.8"/>
<text x="642.4" y="314.04" class="l">12 years</text>
<rect x="627.0" y="319.20" width="6.5" height="6.5" fill="#017369" stroke="#555" stroke-width="0.8"/>
<text x="642.4" y="325.80" class="l">13 years</text>
<rect x="627.0" y="330.96" width="6.5" height="6.5" fill="#015f4d" stroke="#555" stroke-width="0.8"/>
<text x="642.4" y="337.56" class="l">14 years</text>
<rect x="627.0" y="342.72" width="6.5" height="6.5" fill="#014636" stroke="#555" stroke-width="0.8"/>
<text x="642.4" y="349.32" class="l">15 years</text></g>
</svg></body></html>
